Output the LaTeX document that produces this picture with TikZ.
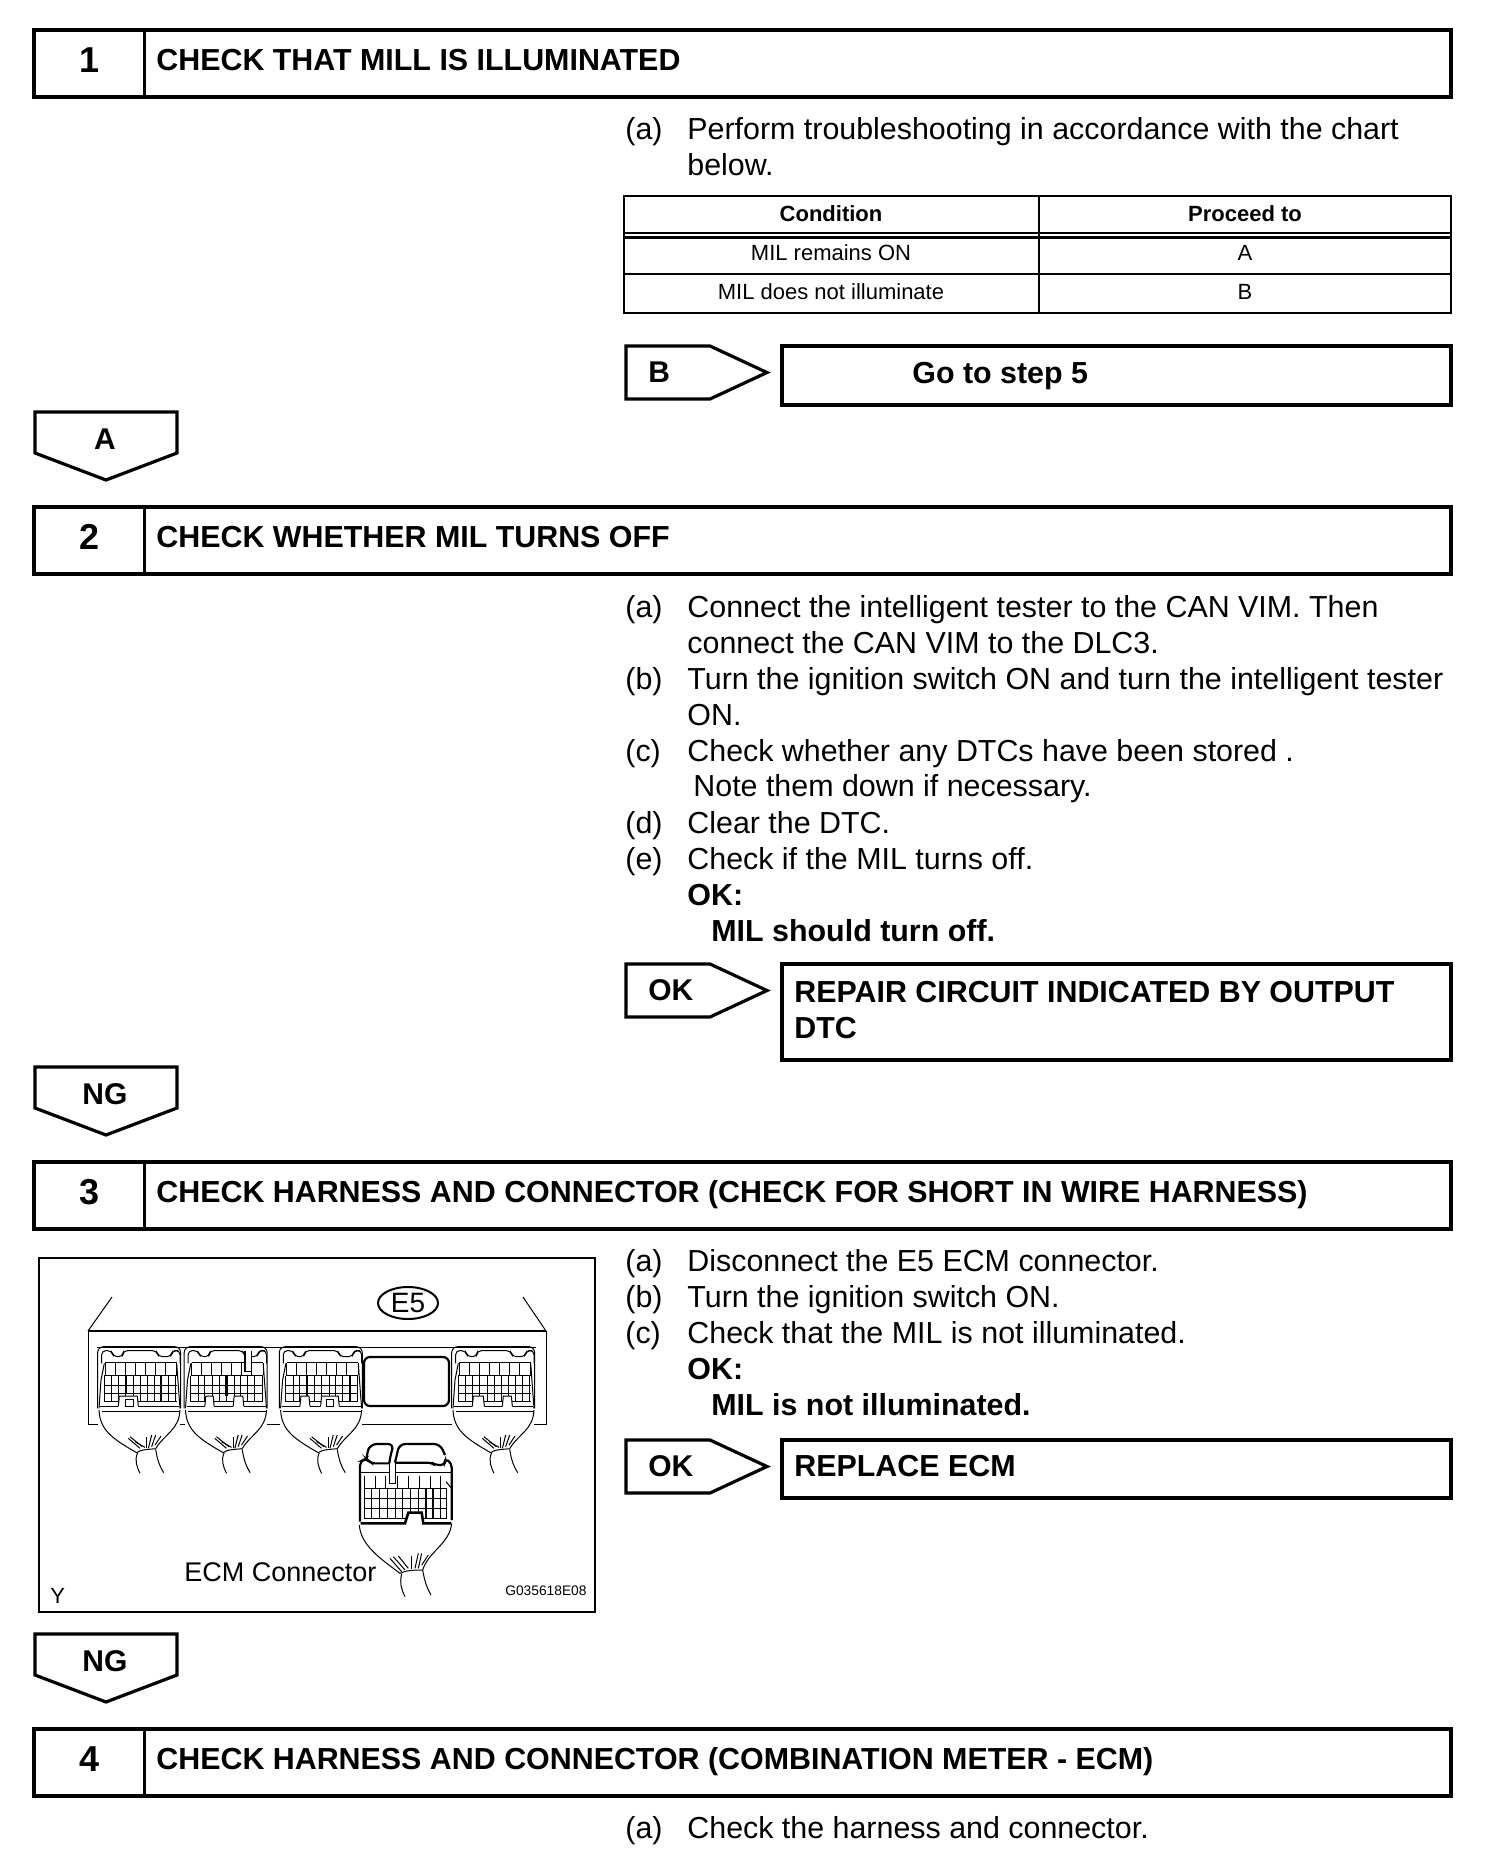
\documentclass[tikz,border=0pt]{standalone}
\usepackage{fontspec}
\setmainfont{Liberation Sans}
\usetikzlibrary{shapes.geometric}
\tikzset{
	plug/.pic={
		% shell and hood
		\draw[thinline, rounded corners=3pt] (38,235) -- (38,50) -- (287,50) -- (287,235);
		\draw[thinline, rounded corners=2pt] (50,100) -- (50,62) -- (80,62) -- (85,80) -- (113,80) -- (115,62) -- (215,62) -- (220,80) -- (258,80) -- (262,62) -- (285,62) -- (285,100);
		\draw[thinline] (42,240) .. controls (45,300) and (80,325) .. (155,368);
		\draw[thinline] (285,240) .. controls (282,300) and (240,310) .. (212,356);
		\draw[thinline] (58,100) -- (48,150) -- (42,235);
		\draw[thinline] (275,100) -- (285,235);
		\draw[thinline] (155,368) .. controls (165,358) and (195,358) .. (212,356);
		\draw[thinline] (158,368) .. controls (148,390) and (155,410) .. (165,430);
		\draw[thinline] (212,358) .. controls (218,395) and (225,410) .. (236,428);
		\foreach \a/\b/\c/\d in {130/325/165/355, 135/320/172/350, 150/335/180/352, 185/322/185/355, 200/315/190/355, 212/315/200/350, 228/318/210/345}{
			\draw[thinline] (\a,\b) -- (\c,\d);
		}
		% cavities
		\foreach \x in {60,90,120,150,180,210,240,275}{
			\draw[thinline] (\x,98) -- (\x,135);
		}
		\draw[thinline] (60,98) -- (275,98);
		\foreach \y in {137,165,190,215}{
			\draw[thinline] (58,\y) -- (275,\y);
		}
		\foreach \x in {58,80,100,122,145,165,188,208,228,250,272}{
			\draw[thinline] (\x,137) -- (\x,215);
		}
		\draw[thinline] (45,229) -- (282,229);
		\draw[thinline] (50,244) -- (285,244);
	},
	notch/.pic={
		\fill[white] (0,232) -- (3,198) -- (#1+3,198) -- (#1+6,232) -- cycle;
		\draw[thinline] (0,229) -- (3,198) -- (#1+3,198) -- (#1+6,229);
	},
	thinline/.style={line width=0.5pt},
	thickline/.style={line width=1.1pt},
	heavy/.style={line width=2pt},
	tagline/.style={line width=1.6pt},
	zoomed/.style={x=0.16667pt, y=-0.16667pt},
	bodytext/.style={anchor=base west, inner sep=0pt, font=\fontsize{15.2}{18}\selectfont},
	boldtext/.style={anchor=base west, inner sep=0pt, font=\fontsize{15.2}{18}\selectfont\bfseries},
	stepnum/.style={anchor=base, inner sep=0pt, font=\fontsize{18}{20}\selectfont\bfseries},
	tagtext/.style={anchor=base, inner sep=0pt, font=\fontsize{15}{18}\selectfont\bfseries},
	boxtext/.style={anchor=base west, inner sep=0pt, font=\fontsize{15.2}{18}\selectfont\bfseries},
	celltext/.style={anchor=base, inner sep=0pt, font=\fontsize{11}{13}\selectfont},
	cellhead/.style={anchor=base, inner sep=0pt, font=\fontsize{11}{13}\selectfont\bfseries}
}
\begin{document}
\begin{tikzpicture}[x=0.5pt, y=-0.5pt]
	\useasboundingbox (0,0) rectangle (1504,1876);

	% step bars
	\foreach \n/\y/\title in {1/30/CHECK THAT MILL IS ILLUMINATED, 2/507/CHECK WHETHER MIL TURNS OFF, 3/1162/CHECK HARNESS AND CONNECTOR (CHECK FOR SHORT IN WIRE HARNESS), 4/1729/CHECK HARNESS AND CONNECTOR (COMBINATION METER - ECM)}{
		\draw[heavy] (34,\y) rectangle (1451,\y+67);
		\draw[line width=1.5pt] (144,\y) -- (144,\y+67);
		\node[stepnum] (num\n) at (90,\y+42) {\n};
		\node[boldtext] (title\n) at (156,\y+40.5) {\title};
	}

	% chart
	\draw[line width=1pt] (624,196) rectangle (1451,313);
	\draw[line width=1pt] (1039,196) -- (1039,313);
	\draw[line width=0.6pt] (624,233) -- (1451,233);
	\draw[line width=1.1pt] (624,237.5) -- (1451,237.5);
	\draw[line width=1pt] (624,274) -- (1451,274);
	\node[cellhead] (cond) at (831,221) {Condition};
	\node[cellhead] (proceed) at (1245,221) {Proceed to};
	\node[celltext] (rowa) at (831,260) {MIL remains ON};
	\node[celltext] (rowb) at (831,299) {MIL does not illuminate};
	\node[celltext] (resa) at (1245,260) {A};
	\node[celltext] (resb) at (1245,299) {B};

	% right tags with their boxes
	\foreach \n/\y/\tagname/\h in {1/346/B/59, 2/964/OK/96, 3/1440/OK/58}{
		\draw[tagline] (626,\y) -- (710,\y) -- (767,\y+26.5) -- (710,\y+53) -- (626,\y+53) -- cycle;
		\node[tagtext, anchor=base west] (side\n) at (648,\y+36) {\tagname};
		\draw[heavy] (782,\y) rectangle (1451,\y+\h);
	}
	\node[boxtext] (goto) at (912,383) {Go to step 5};
	\node[boxtext] (repair1) at (794,1002) {REPAIR CIRCUIT INDICATED BY OUTPUT};
	\node[boxtext] (repair2) at (794,1038) {DTC};
	\node[boxtext] (replace) at (794,1476) {REPLACE ECM};

	% down tags
	\foreach \n/\y/\tagname in {1/412/A, 2/1067/NG, 3/1634/NG}{
		\draw[tagline] (35,\y) -- (177,\y) -- (177,\y+41) -- (106,\y+68) -- (35,\y+41) -- cycle;
		\node[tagtext] (down\n) at (105,\y+37) {\tagname};
	}

	% instructions
	\foreach \n/\x/\y/\txt in {
		a/625/139/(a), b/687/139/Perform troubleshooting in accordance with the chart, c/687/175/below.,
		d/625/617/(a), e/687/617/Connect the intelligent tester to the CAN VIM. Then, f/687/653/connect the CAN VIM to the DLC3.,
		g/625/689/(b), h/687/689/Turn the ignition switch ON and turn the intelligent tester, i/687/725/ON.,
		j/625/761/(c), k/687/761/Check whether any DTCs have been stored ., l/693/796/Note them down if necessary.,
		m/625/833/(d), o/687/833/Clear the DTC.,
		p/625/869/(e), q/687/869/Check if the MIL turns off.,
		r/625/1271/(a), s/687/1271/Disconnect the E5 ECM connector.,
		t/625/1307/(b), u/687/1307/Turn the ignition switch ON.,
		v/625/1343/(c), w/687/1343/Check that the MIL is not illuminated.,
		x/625/1838/(a), z/687/1838/Check the harness and connector.}{
		\node[bodytext] (line\n) at (\x,\y) {\txt};
	}
	\foreach \n/\x/\y/\txt in {a/687/905/OK:, b/711/941/MIL should turn off., c/687/1379/OK:, d/711/1415/MIL is not illuminated.}{
		\node[boldtext] (spec\n) at (\x,\y) {\txt};
	}

	% connector figure
	\draw[line width=1pt] (39,1258) rectangle (595,1612);
	\draw[thinline] (88,1331) rectangle (546,1424);
	\draw[thickline] (88,1331) -- (546,1331);
	\draw[thinline] (112,1297) -- (88,1331);
	\draw[thinline] (523,1297) -- (546,1331);
	\draw[thinline, rounded corners=2pt] (97,1347) -- (536,1347);
	\draw[thickline, rounded corners=3pt] (364,1357) rectangle (449,1406);
	\node[draw, ellipse, line width=1pt, minimum width=30pt, minimum height=16pt, inner sep=0pt, font=\fontsize{14}{16}\selectfont] (e5) at (408,1303) {E5};

	\begin{scope}[shift={(85,1330)}, zoomed]
		\fill[white] (40,246) rectangle (285,300);
		\pic (plugA) {plug};
		\pic at (100,0) {notch=54};
		\draw[thinline] (122,208) rectangle (145,228);
		\draw[thickline] (122,137) -- (122,190);
		\draw[thickline] (228,137) -- (228,215);
	\end{scope}
	\begin{scope}[shift={(171.5,1330)}, zoomed]
		\fill[white] (40,246) rectangle (285,300);
		\pic (plugB) {plug};
		\pic at (100,0) {notch=22};
		\pic at (185,0) {notch=26};
		\draw[thickline] (165,137) -- (165,198);
		\draw[line width=0.8pt, fill=white] (220,62) -- (220,125) -- (240,125) -- (240,62);
	\end{scope}
	\begin{scope}[shift={(266.6,1330)}, zoomed]
		\fill[white] (40,246) rectangle (285,300);
		\pic (plugC) {plug};
		\pic at (100,0) {notch=24};
		\pic at (162,0) {notch=50};
		\draw[thinline] (180,208) rectangle (202,228);
		\draw[thickline] (122,137) -- (122,198);
		\draw[thickline] (250,137) -- (250,215);
	\end{scope}
	\begin{scope}[shift={(439,1330)}, zoomed]
		\fill[white] (40,246) rectangle (285,300);
		\pic (plugD) {plug};
		\pic at (100,0) {notch=30};
		\pic at (190,0) {notch=24};
	\end{scope}

	% loose connector
	\begin{scope}[shift={(350,1430)}, zoomed]
		\draw[thickline, rounded corners=3pt] (50,85) -- (50,70) -- (62,42) -- (132,42) -- (122,72) -- (118,100);
		\draw[thickline, rounded corners=3pt] (135,98) -- (148,42) -- (270,42) -- (285,75);
		\draw[thickline, rounded corners=2pt] (30,275) -- (30,95) -- (50,85) -- (62,100) -- (118,100);
		\draw[thickline, rounded corners=2pt] (135,98) -- (245,98) -- (255,105) -- (285,105) -- (285,85) -- (305,100) -- (305,270);
		\draw[thinline] (118,100) -- (118,160) -- (135,160) -- (135,98);
		\draw[thinline] (30,128) -- (118,128);
		\draw[thinline] (135,128) -- (305,128);
		\draw[thinline] (42,137) -- (42,175);
		\foreach \x in {75,105,143,175,207,240,270}{
			\draw[thinline] (\x,137) -- (\x,175);
		}
		\foreach \y in {175,205,235,265}{
			\draw[thinline] (42,\y) -- (290,\y);
		}
		\foreach \x in {42,65,88,112,135,158,180,205,228,248,270,290}{
			\draw[thinline] (\x,175) -- (\x,265);
		}
		\draw[thickline] (228,175) -- (228,265);
		\draw[thickline] (248,175) -- (248,265);
		\draw[thinline] (288,155) -- (305,175);
		\fill[white] (165,282) -- (175,248) -- (215,248) -- (220,282) -- cycle;
		\draw[line width=1.3pt] (32,280) -- (165,280) -- (175,248) -- (215,248) -- (220,280) -- (303,280);
		% hood
		\draw[thinline] (28,285) .. controls (32,345) and (90,385) .. (150,430);
		\draw[thinline] (305,280) .. controls (300,340) and (235,365) .. (218,420);
		\draw[thinline] (150,430) .. controls (170,420) and (195,420) .. (218,420);
		\draw[thinline] (155,432) .. controls (148,460) and (155,480) .. (165,500);
		\draw[thinline] (218,420) .. controls (225,460) and (232,475) .. (243,495);
		\foreach \a/\b/\c/\d in {120/385/155/425, 130/380/165/420, 145/378/175/415, 185/378/185/418, 205/370/195/415, 215/370/205/415, 235/375/215/405}{
			\draw[thinline] (\a,\b) -- (\c,\d);
		}
	\end{scope}

	\node[anchor=base west, inner sep=0pt, font=\fontsize{13.5}{16}\selectfont] (ecm) at (184,1581) {ECM Connector};
	\node[anchor=base west, inner sep=0pt, font=\fontsize{11}{13}\selectfont] (ylabel) at (50,1603) {Y};
	\node[anchor=base east, inner sep=0pt, font=\fontsize{6.9}{8}\selectfont] (code) at (587,1595) {G035618E08};
\end{tikzpicture}
\end{document}
